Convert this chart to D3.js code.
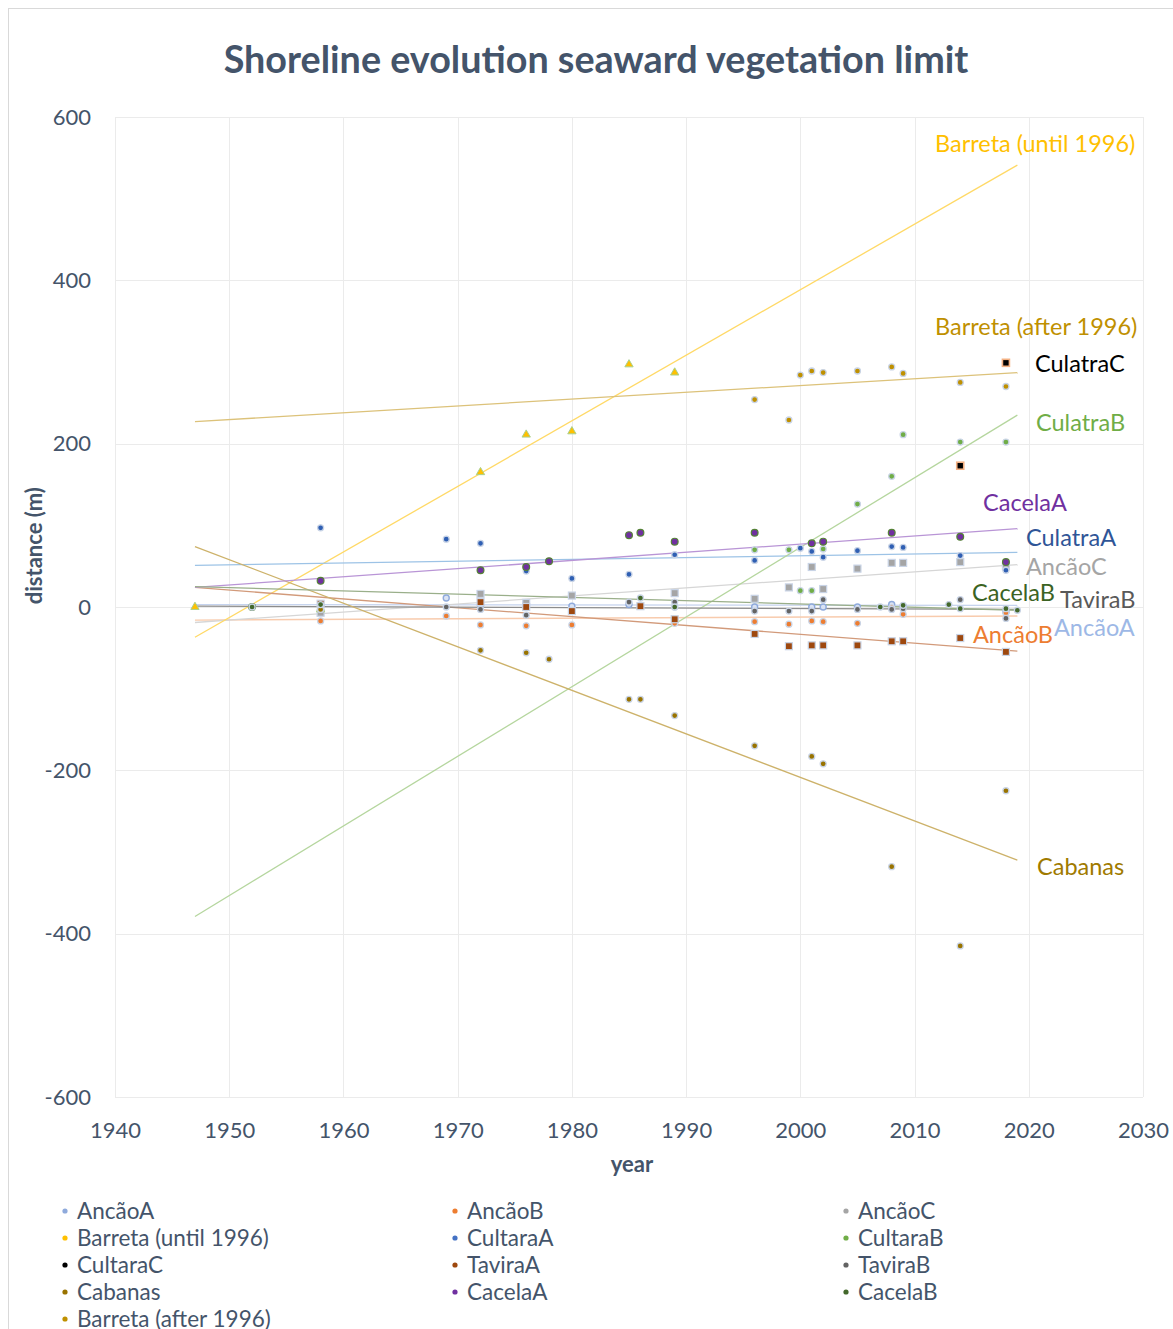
<!DOCTYPE html>
<html>
<head>
<meta charset="utf-8">
<script src="https://cdn.jsdelivr.net/npm/d3@7"></script>
<style>
  html, body { margin: 0; padding: 0; background: #fff; }
  svg { display: block; font-family: Lato, "Open Sans", sans-serif; }
</style>
</head>
<body>
<svg id="chart" width="1173" height="1329"></svg>
<script>
// Shoreline position (m) per survey year, one array of [year, distance] per transect.
const ancaoA = [[1958, 1], [1969, 11], [1972, 3], [1976, 5], [1980, 1], [1985, 3], [1996, 0], [2001, 0], [2002, 0], [2005, 0], [2008, 3], [2009, 1], [2018, -6]];
const ancaoB = [[1958, -17], [1969, -11], [1972, -22], [1976, -23], [1980, -22], [1989, -20], [1996, -18], [1999, -21], [2001, -17], [2002, -18], [2005, -20], [2008, -1], [2009, -9], [2018, -7]];
const ancaoC = [[1958, -7], [1972, 16], [1976, 5], [1980, 14], [1989, 17], [1996, 10], [1999, 24], [2001, 49], [2002, 22], [2005, 47], [2008, 54], [2009, 54], [2014, 55], [2018, 50]];
const barretaUntil1996 = [[1947, 0], [1958, -3], [1972, 165], [1976, 211], [1980, 215], [1985, 297], [1989, 287]];
const culatraA = [[1958, 97], [1969, 83], [1972, 78], [1976, 44], [1980, 35], [1985, 40], [1989, 64], [1996, 57], [2000, 72], [2001, 68], [2002, 61], [2005, 69], [2008, 74], [2009, 73], [2014, 63], [2018, 45]];
const culatraB = [[1989, 0], [1996, 70], [1999, 70], [2000, 20], [2001, 20], [2002, 71], [2005, 126], [2008, 160], [2009, 211], [2014, 202], [2018, 202]];
const culatraC = [[2014, 173], [2018, 299]];
const cabanas = [[1958, -3], [1972, -53], [1976, -56], [1978, -64], [1985, -113], [1986, -113], [1989, -133], [1996, -170], [2001, -183], [2002, -192], [2008, -318], [2014, -415], [2018, -225]];
const taviraA = [[1958, 4], [1972, 6], [1976, 0], [1980, -5], [1986, 1], [1989, -15], [1996, -33], [1999, -48], [2001, -47], [2002, -47], [2005, -47], [2008, -42], [2009, -42], [2014, -38], [2018, -55]];
const taviraB = [[1958, -2], [1969, 0], [1972, -3], [1976, -10], [1985, 6], [1989, 6], [1996, -5], [1999, -5], [2001, -5], [2002, 9], [2005, -3], [2008, -3], [2009, -2], [2014, 9], [2018, -14]];
const cacelaA = [[1952, 0], [1958, 32], [1972, 45], [1976, 49], [1978, 56], [1985, 88], [1986, 91], [1989, 80], [1996, 91], [2001, 78], [2002, 80], [2008, 91], [2014, 86], [2018, 55]];
const cacelaB = [[1952, 0], [1958, 3], [1986, 11], [1989, 0], [2007, 0], [2009, 2], [2013, 3], [2014, -2], [2018, -2], [2019, -4]];
const barretaAfter1996 = [[1996, 254], [1999, 229], [2000, 284], [2001, 289], [2002, 287], [2005, 289], [2008, 294], [2009, 286], [2014, 275], [2018, 270]];

// Linear trend of each transect: value at 1947 and at 2019.
const trendYears = [1947, 2019];
const trendAncaoA = [3, 2];
const trendAncaoB = [-16, -11];
const trendAncaoC = [-19, 52];
const trendBarretaUntil = [-37, 541];
const trendCulatraA = [51, 67];
const trendCulatraB = [-379, 235];
const trendCabanas = [74, -310];
const trendTaviraA = [24, -54];
const trendTaviraB = [1, -3];
const trendCacelaA = [24, 96];
const trendCacelaB = [25, -4];
const trendBarretaAfter = [227, 287];

// Axis ticks
const xTicks = [1940, 1950, 1960, 1970, 1980, 1990, 2000, 2010, 2020, 2030];
const yTicks = [-600, -400, -200, 0, 200, 400, 600];

// Legend entries (row by row, three columns)
const legendNames = ["AncãoA", "AncãoB", "AncãoC", "Barreta (until 1996)", "CultaraA", "CultaraB",
  "CultaraC", "TaviraA", "TaviraB", "Cabanas", "CacelaA", "CacelaB", "Barreta (after 1996)"];

// Series styling
const series = [
  { key: "AncãoA", data: ancaoA, trend: trendAncaoA, color: "#8FAADC", line: "#C5D3EE", symbol: "circleOpen", label: "AncãoA", labelColor: "#9DB8E6", lx: 1054, ly: 628 },
  { key: "AncãoB", data: ancaoB, trend: trendAncaoB, color: "#ED7D31", line: "#F8CBAD", symbol: "circle", label: "AncãoB", labelColor: "#ED7D31", lx: 973, ly: 635 },
  { key: "AncãoC", data: ancaoC, trend: trendAncaoC, color: "#A5A5A5", line: "#D6D6D6", symbol: "square", label: "AncãoC", labelColor: "#A5A5A5", lx: 1026, ly: 567 },
  { key: "Barreta (until 1996)", data: barretaUntil1996, trend: trendBarretaUntil, color: "#FFC000", line: "#FFD966", symbol: "triangle", label: "Barreta (until 1996)", labelColor: "#FFC000", lx: 935, ly: 144 },
  { key: "CultaraA", data: culatraA, trend: trendCulatraA, color: "#2F5FB3", line: "#9DC3E6", symbol: "circle", label: "CulatraA", labelColor: "#2F5597", lx: 1026, ly: 538 },
  { key: "CultaraB", data: culatraB, trend: trendCulatraB, color: "#70AD47", line: "#B5D69E", symbol: "circle", label: "CulatraB", labelColor: "#70AD47", lx: 1036, ly: 423 },
  { key: "CultaraC", data: culatraC, trend: null, color: "#000000", line: null, symbol: "squareC", label: "CulatraC", labelColor: "#000000", lx: 1035, ly: 364 },
  { key: "TaviraA", data: taviraA, trend: trendTaviraA, color: "#9E480E", line: "#D29A7A", symbol: "square", label: null },
  { key: "TaviraB", data: taviraB, trend: trendTaviraB, color: "#636363", line: "#8C8C8C", symbol: "circle", label: "TaviraB", labelColor: "#595959", lx: 1060, ly: 600 },
  { key: "Cabanas", data: cabanas, trend: trendCabanas, color: "#997300", line: "#CDB26A", symbol: "circle", label: "Cabanas", labelColor: "#A07A00", lx: 1037, ly: 867 },
  { key: "CacelaA", data: cacelaA, trend: trendCacelaA, color: "#7030A0", line: "#B995D6", symbol: "circleG", label: "CacelaA", labelColor: "#7030A0", lx: 983, ly: 503 },
  { key: "CacelaB", data: cacelaB, trend: trendCacelaB, color: "#43682B", line: "#9AAF8A", symbol: "circle", label: "CacelaB", labelColor: "#3B6323", lx: 972, ly: 593 },
  { key: "Barreta (after 1996)", data: barretaAfter1996, trend: trendBarretaAfter, color: "#BF9000", line: "#DCC27A", symbol: "circle", label: "Barreta (after 1996)", labelColor: "#BF9000", lx: 935, ly: 327 }
];
const legendColor = {
  "AncãoA": "#8FAADC", "AncãoB": "#ED7D31", "AncãoC": "#A5A5A5", "Barreta (until 1996)": "#FFC000",
  "CultaraA": "#4472C4", "CultaraB": "#70AD47", "CultaraC": "#000000", "TaviraA": "#9E480E",
  "TaviraB": "#636363", "Cabanas": "#997300", "CacelaA": "#7030A0", "CacelaB": "#43682B",
  "Barreta (after 1996)": "#BF9000"
};

const svg = d3.select("#chart");
const textColor = "#44546A";

// chart frame
svg.append("rect").attr("x", 8.5).attr("y", 8.5).attr("width", 1300).attr("height", 1400)
  .attr("fill", "#fff").attr("stroke", "#D9D9D9").attr("stroke-width", 1);

const x = d3.scaleLinear().domain([1940, 2030]).range([115, 1143]);
const y = d3.scaleLinear().domain([-600, 600]).range([1097, 117]);

// gridlines
const grid = svg.append("g").attr("stroke", "#EBEBEB").attr("stroke-width", 1);
grid.selectAll("line.v").data(xTicks).join("line")
  .attr("x1", d => Math.round(x(d)) + 0.5).attr("x2", d => Math.round(x(d)) + 0.5)
  .attr("y1", y(600)).attr("y2", y(-600));
grid.selectAll("line.h").data(yTicks).join("line")
  .attr("y1", d => Math.round(y(d)) + 0.5).attr("y2", d => Math.round(y(d)) + 0.5)
  .attr("x1", x(1940)).attr("x2", x(2030));

// axes (labels only, plain hyphen for negatives)
const plain = d => String(d);
const yAxis = svg.append("g").attr("transform", `translate(${x(1940)},0)`)
  .call(d3.axisLeft(y).tickValues(yTicks).tickSize(0).tickPadding(24).tickFormat(plain));
const xAxis = svg.append("g").attr("transform", `translate(0,${y(-600)})`)
  .call(d3.axisBottom(x).tickValues(xTicks).tickSize(0).tickPadding(25).tickFormat(plain));
[yAxis, xAxis].forEach(a => {
  a.select(".domain").remove();
  a.selectAll("text").attr("fill", textColor).style("font-size", "22px").style("font-family", "Lato, sans-serif");
});

// axis titles
svg.append("text").attr("transform", `translate(42,${y(75)}) rotate(-90)`)
  .attr("text-anchor", "middle").attr("fill", textColor)
  .style("font-size", "22px").style("font-weight", "bold").text("distance (m)");
svg.append("text").attr("x", 632).attr("y", 1172).attr("text-anchor", "middle").attr("fill", textColor)
  .style("font-size", "22px").style("font-weight", "bold").text("year");

// title
const title = svg.append("text").attr("x", 596).attr("y", 73).attr("text-anchor", "middle")
  .attr("fill", textColor).style("font-size", "36px").style("font-weight", "bold")
  .text("Shoreline evolution seaward vegetation limit");
const tw = title.node().getComputedTextLength();
title.style("font-size", (36 * 745 / tw).toFixed(2) + "px");

// trend lines
const trendG = svg.append("g");
series.filter(s => s.trend).forEach(s => {
  trendG.append("line")
    .attr("x1", x(trendYears[0])).attr("y1", y(s.trend[0]))
    .attr("x2", x(trendYears[1])).attr("y2", y(s.trend[1]))
    .attr("stroke", s.line).attr("stroke-width", 1.3);
});

// markers
const markG = svg.append("g");
function drawMarker(g, s, px, py) {
  switch (s.symbol) {
    case "square":
      g.append("rect").attr("x", px - 3.5).attr("y", py - 3.5).attr("width", 7).attr("height", 7)
        .attr("fill", s.color).attr("stroke", "#C9D4E6").attr("stroke-width", 1.2);
      break;
    case "squareC":
      g.append("rect").attr("x", px - 3.5).attr("y", py - 3.5).attr("width", 7).attr("height", 7)
        .attr("fill", s.color).attr("stroke", "#F4B183").attr("stroke-width", 1.6);
      break;
    case "triangle":
      g.append("path").attr("transform", `translate(${px},${py})`)
        .attr("d", d3.symbol(d3.symbolTriangle, 30)())
        .attr("fill", s.color).attr("stroke", "#A9D18E").attr("stroke-width", 1);
      break;
    case "circleOpen":
      g.append("circle").attr("cx", px).attr("cy", py).attr("r", 3)
        .attr("fill", "#DAE3F3").attr("stroke", s.color).attr("stroke-width", 1.4);
      break;
    case "circleG":
      g.append("circle").attr("cx", px).attr("cy", py).attr("r", 3.4)
        .attr("fill", s.color).attr("stroke", "#548235").attr("stroke-width", 1.2);
      break;
    default:
      g.append("circle").attr("cx", px).attr("cy", py).attr("r", 3)
        .attr("fill", s.color).attr("stroke", "#C9D4E6").attr("stroke-width", 1.3);
  }
}
series.forEach(s => {
  s.data.forEach(([yr, v]) => drawMarker(markG, s, x(yr), y(v)));
});

// series labels at the end of the trend lines
svg.append("g").selectAll("text").data(series.filter(s => s.label)).join("text")
  .attr("x", d => d.lx).attr("y", d => d.ly).attr("dy", "0.35em")
  .attr("fill", d => d.labelColor).style("font-size", "23.5px")
  .text(d => d.label);

// legend
const legend = svg.append("g");
const colX = [62, 452, 843];
legendNames.forEach((name, i) => {
  const cx = colX[i % 3], cy = 1211 + Math.floor(i / 3) * 27;
  legend.append("circle").attr("cx", cx + 3).attr("cy", cy).attr("r", 2.6).attr("fill", legendColor[name]);
  legend.append("text").attr("x", cx + 15).attr("y", cy).attr("dy", "0.35em")
    .attr("fill", textColor).style("font-size", "22.5px").text(name);
});
</script>
</body>
</html>
